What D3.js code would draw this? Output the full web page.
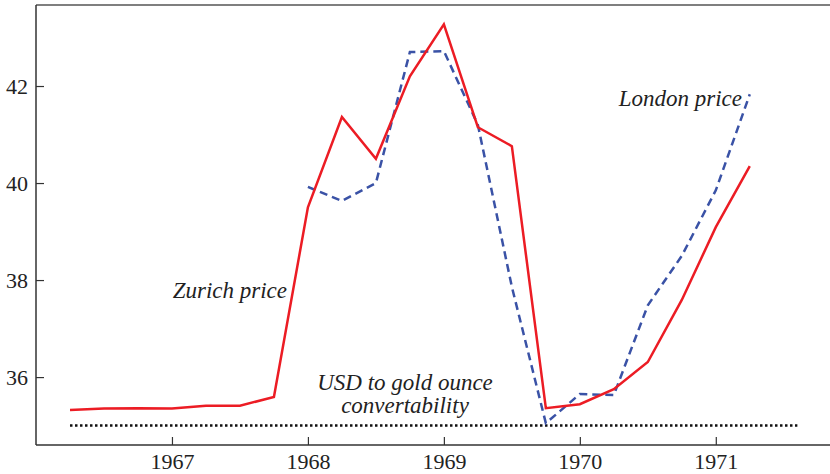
<!DOCTYPE html>
<html>
<head>
<meta charset="utf-8">
<script src="https://cdn.jsdelivr.net/npm/d3@7"></script>
<style>
  body { margin: 0; background: #fff; }
</style>
</head>
<body>
<div id="chart"></div>
<script>
// quarterly dates
const zurichDates = [1966.25, 1966.5, 1966.75, 1967, 1967.25, 1967.5, 1967.75, 1968, 1968.25, 1968.5,
  1968.75, 1969, 1969.25, 1969.5, 1969.75, 1970, 1970.25, 1970.5, 1970.75, 1971, 1971.25]
const zurichPrice = [35.32, 35.35, 35.36, 35.35, 35.41, 35.41, 35.59, 39.5, 41.36, 40.5,
  42.2, 43.27, 41.15, 40.76, 35.36, 35.44, 35.75, 36.31, 37.59, 39.09, 40.35]
const londonDates = [1968, 1968.25, 1968.5, 1968.75, 1969, 1969.25, 1969.5, 1969.75, 1970, 1970.25,
  1970.5, 1970.75, 1971, 1971.25]
const londonPrice = [39.92, 39.63, 40.0, 42.7, 42.72, 41.2, 37.86, 35.05, 35.65, 35.63,
  37.48, 38.5, 39.85, 41.83]
const parity = 35
const parityRange = [1966.25, 1971.6]
const yTicks = [36, 38, 40, 42]
const xTicks = [1967, 1968, 1969, 1970, 1971]

const W = 830, H = 474
const padL = 36, padT = 5, padB = 445
const serif = "'Liberation Serif', 'DejaVu Serif', 'Noto Serif', 'Times New Roman', Tinos, FreeSerif, serif"

const x = d3.scaleLinear().domain([1966, 1971.84]).range([padL, W])
const y = d3.scaleLinear().domain([34.6, 43.67]).range([padB, padT])

const svg = d3.select("#chart").append("svg")
  .attr("width", W).attr("height", H)
  .attr("font-family", serif)

// frame (top border, no right border)
svg.append("line")
  .attr("x1", padL).attr("x2", W).attr("y1", padT).attr("y2", padT)
  .attr("stroke", "#555").attr("stroke-width", 1.5)

const yAxis = svg.append("g")
  .attr("transform", "translate(" + padL + ",0)")
  .call(d3.axisRight(y).tickValues(yTicks).tickSize(8).tickFormat(d3.format("d")))
  .attr("font-family", serif)
yAxis.select(".domain").remove()
yAxis.selectAll(".tick line").attr("stroke", "#333").attr("stroke-width", 1.2)
yAxis.selectAll(".tick text").attr("x", -8).attr("text-anchor", "end")
  .attr("font-size", 22).attr("fill", "#222")

svg.append("line")
  .attr("x1", padL).attr("x2", padL).attr("y1", padT).attr("y2", padB)
  .attr("stroke", "#333").attr("stroke-width", 1.5)

const xAxis = svg.append("g")
  .attr("transform", "translate(0," + padB + ")")
  .call(d3.axisTop(x).tickValues(xTicks).tickSize(8).tickFormat(d3.format("d")))
  .attr("font-family", serif)
xAxis.select(".domain").remove()
xAxis.selectAll(".tick line").attr("stroke", "#333").attr("stroke-width", 1.2)
xAxis.selectAll(".tick text").attr("y", 24).attr("dy", "0")
  .attr("font-size", 22).attr("fill", "#222")

svg.append("line")
  .attr("x1", padL).attr("x2", W).attr("y1", padB).attr("y2", padB)
  .attr("stroke", "#333").attr("stroke-width", 1.5)

// convertibility line
svg.append("line")
  .attr("x1", x(parityRange[0])).attr("x2", x(parityRange[1]))
  .attr("y1", y(parity)).attr("y2", y(parity))
  .attr("stroke", "#111").attr("stroke-width", 2.5).attr("stroke-dasharray", "2.5,2.5")

const line = d3.line().x(d => x(d[0])).y(d => y(d[1]))

svg.append("path")
  .datum(londonDates.map((d, i) => [d, londonPrice[i]]))
  .attr("d", line).attr("fill", "none")
  .attr("stroke", "#3a52a6").attr("stroke-width", 2.5).attr("stroke-dasharray", "8,5")

svg.append("path")
  .datum(zurichDates.map((d, i) => [d, zurichPrice[i]]))
  .attr("d", line).attr("fill", "none")
  .attr("stroke", "#ec1c24").attr("stroke-width", 2.5)

// labels
const label = (tx, ty, anchor, s) => svg.append("text")
  .attr("x", tx).attr("y", ty).attr("text-anchor", anchor)
  .attr("font-family", serif).attr("font-style", "italic")
  .attr("font-size", 23).attr("fill", "#222").text(s)

label(287, 298, "end", "Zurich price")
label(742, 106, "end", "London price")
label(405, 390, "middle", "USD to gold ounce")
label(405, 413, "middle", "convertability")
</script>
</body>
</html>
